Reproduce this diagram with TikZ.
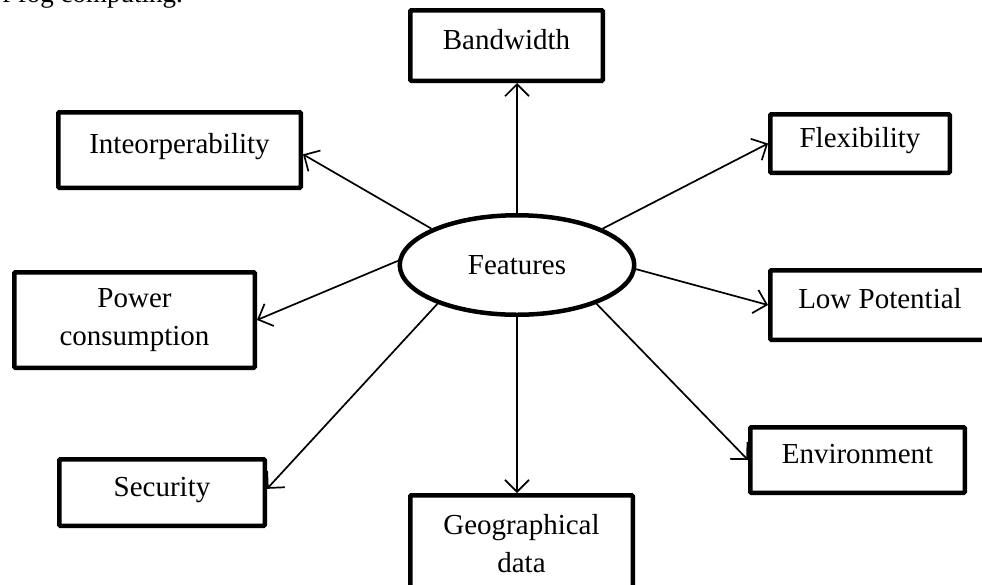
\documentclass[tikz,border=0pt]{standalone}
\usepackage{fontspec}
\setmainfont{Liberation Serif}
\usetikzlibrary{arrows.meta,shapes.geometric}
\begin{document}
\begin{tikzpicture}[x=1pt,y=-1pt,
  every node/.style={font=\fontsize{29}{38}\selectfont},
  fbox/.style={draw,line width=4.5pt,rounded corners=1pt,inner sep=0pt,align=center},
  oneline/.style={fbox,text height=19.8pt,text depth=12pt},
  conn/.style={line width=1.7pt,-{Straight Barb[length=12pt,width=24pt]}}]
\useasboundingbox (0,0) rectangle (982,584);
\clip (0,0) rectangle (982,584);
\fill[white] (0,0) rectangle (982,584);
\node[anchor=base east,inner sep=0pt,font=\fontsize{27}{33}\selectfont] (title) at (183,2) {of fog computing.};
\node[ellipse,draw,line width=4.5pt,minimum width=234.5pt,minimum height=99.5pt,inner sep=0pt] (f) at (517,265) {Features};
\node[oneline,minimum width=192.5pt,minimum height=70.5pt] (bw) at (506.5,45.5) {Bandwidth};
\node[oneline,minimum width=179.5pt,minimum height=58.5pt] (flex) at (860,143.5) {Flexibility};
\node[oneline,minimum width=242.5pt,minimum height=75.5pt] (io) at (179.5,150) {Inteorperability};
\node[fbox,minimum width=240.5pt,minimum height=95.5pt] (pc) at (134.5,320) {Power\\consumption};
\node[oneline,minimum width=227.5pt,minimum height=69.5pt] (lp) at (884,305) {\hspace*{-8pt}Low Potential};
\node[oneline,minimum width=205.5pt,minimum height=66.5pt] (sec) at (162,492.5) {Security};
\node[oneline,minimum width=214.5pt,minimum height=65.5pt] (env) at (857.5,460) {Environment};
\node[fbox,text depth=10pt,minimum width=222.5pt,minimum height=105.5pt] (geo) at (521.5,548) {Geographical\\data};
\draw[conn] (f.north) -- (f.north |- bw.south);
\draw[conn] (f.23.5) -- (flex.west);
\draw[conn] (f.157) -- (io.-2);
\draw[conn] (f.178) -- (pc.east);
\draw[conn] (f.-2) -- (lp.west);
\draw[conn] (f.206) -- (sec.2);
\draw[conn] (f.-26) -- (env.west);
\draw[conn] (f.south) -- (f.south |- geo.north);
\end{tikzpicture}
\end{document}
